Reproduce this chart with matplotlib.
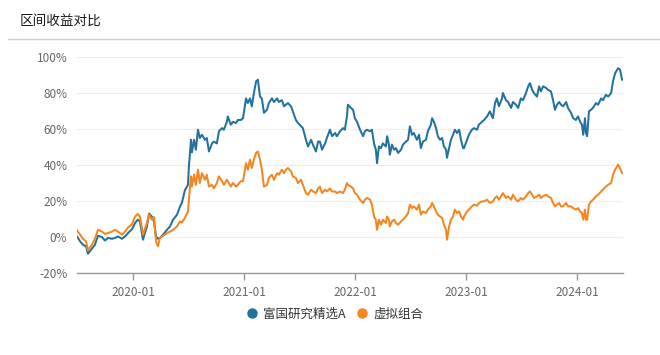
import matplotlib
matplotlib.use("Agg")
import matplotlib.pyplot as plt
import pandas as pd

plt.rcParams['font.family'] = ['Noto Sans CJK SC', 'DejaVu Sans']

title = "区间收益对比"
series_names = ["富国研究精选A", "虚拟组合"]

dates = [
    "2019-07-01", "2019-07-11", "2019-07-21", "2019-07-31", "2019-08-06", "2019-08-19", "2019-08-29",
    "2019-09-08", "2019-09-21", "2019-10-01", "2019-10-11", "2019-10-24", "2019-11-03", "2019-11-13",
    "2019-11-26", "2019-12-06", "2019-12-16", "2019-12-29", "2020-01-08", "2020-01-17", "2020-01-24",
    "2020-02-03", "2020-02-16", "2020-02-23", "2020-03-03", "2020-03-10", "2020-03-17", "2020-03-23",
    "2020-03-30", "2020-04-09", "2020-04-22", "2020-05-02", "2020-05-12", "2020-05-25", "2020-06-04",
    "2020-06-10", "2020-06-20", "2020-06-30", "2020-07-03", "2020-07-10", "2020-07-13", "2020-07-20",
    "2020-07-26", "2020-08-02", "2020-08-08", "2020-08-15", "2020-08-25", "2020-08-31", "2020-09-07",
    "2020-09-17", "2020-09-23", "2020-10-03", "2020-10-10", "2020-10-20", "2020-10-26", "2020-11-05",
    "2020-11-08", "2020-11-18", "2020-11-25", "2020-12-05", "2020-12-11", "2020-12-21", "2020-12-28",
    "2021-01-07", "2021-01-13", "2021-01-20", "2021-01-26", "2021-02-02", "2021-02-09", "2021-02-15",
    "2021-02-22", "2021-02-28", "2021-03-07", "2021-03-17", "2021-03-23", "2021-04-02", "2021-04-09",
    "2021-04-19", "2021-04-25", "2021-05-05", "2021-05-12", "2021-05-18", "2021-05-25", "2021-06-04",
    "2021-06-10", "2021-06-20", "2021-06-27", "2021-07-07", "2021-07-13", "2021-07-23", "2021-07-30",
    "2021-08-09", "2021-08-15", "2021-08-25", "2021-09-01", "2021-09-07", "2021-09-14", "2021-09-24",
    "2021-09-30", "2021-10-10", "2021-10-17", "2021-10-27", "2021-11-02", "2021-11-12", "2021-11-22",
    "2021-11-28", "2021-12-05", "2021-12-08", "2021-12-18", "2021-12-25", "2021-12-31", "2022-01-07",
    "2022-01-17", "2022-01-27", "2022-02-02", "2022-02-09", "2022-02-19", "2022-02-25", "2022-03-04",
    "2022-03-10", "2022-03-14", "2022-03-20", "2022-03-27", "2022-04-02", "2022-04-12", "2022-04-16",
    "2022-04-22", "2022-04-25", "2022-05-02", "2022-05-09", "2022-05-15", "2022-05-22", "2022-06-01",
    "2022-06-07", "2022-06-17", "2022-06-24", "2022-06-30", "2022-07-07", "2022-07-13", "2022-07-23",
    "2022-07-30", "2022-08-05", "2022-08-12", "2022-08-22", "2022-08-28", "2022-09-07", "2022-09-11",
    "2022-09-17", "2022-09-24", "2022-09-30", "2022-10-07", "2022-10-14", "2022-10-20", "2022-10-27",
    "2022-10-30", "2022-11-06", "2022-11-12", "2022-11-19", "2022-11-25", "2022-12-02", "2022-12-09",
    "2022-12-15", "2022-12-22", "2022-12-25", "2023-01-04", "2023-01-10", "2023-01-20", "2023-01-27",
    "2023-02-06", "2023-02-12", "2023-02-22", "2023-03-01", "2023-03-11", "2023-03-20", "2023-03-30",
    "2023-04-06", "2023-04-12", "2023-04-19", "2023-04-29", "2023-05-02", "2023-05-12", "2023-05-19",
    "2023-05-29", "2023-06-04", "2023-06-14", "2023-06-21", "2023-06-30", "2023-07-07", "2023-07-17",
    "2023-07-24", "2023-07-30", "2023-08-06", "2023-08-12", "2023-08-22", "2023-08-29", "2023-09-04",
    "2023-09-11", "2023-09-21", "2023-09-27", "2023-10-07", "2023-10-14", "2023-10-20", "2023-10-27",
    "2023-11-03", "2023-11-09", "2023-11-16", "2023-11-26", "2023-12-02", "2023-12-12", "2023-12-19",
    "2023-12-28", "2024-01-04", "2024-01-11", "2024-01-17", "2024-01-21", "2024-01-27", "2024-01-30",
    "2024-02-03", "2024-02-09", "2024-02-16", "2024-02-22", "2024-03-03", "2024-03-10", "2024-03-20",
    "2024-03-26", "2024-04-05", "2024-04-12", "2024-04-22", "2024-04-28", "2024-05-05", "2024-05-15",
    "2024-05-21", "2024-05-28",
]

fund = [
    0.3, -2.4, -4.3, -5.2, -9.3, -6.5, -4.3,
    0.7, 0.0, -2.0, -0.5, -1.0, -0.5, 0.3,
    -1.0, 0.3, 2.2, 4.4, 7.8, 9.6, 8.7,
    -1.5, 5.9, 13.0, 11.4, 8.7, 0.3, -1.0,
    -0.5, 1.3, 4.0, 5.9, 9.6, 12.4, 17.0,
    19.0, 26.0, 29.0, 39.0, 54.0, 47.0, 54.0,
    48.5, 59.6, 55.0, 56.8, 54.0, 55.0, 47.5,
    52.0, 53.0, 52.0, 58.7, 60.5, 59.6, 64.0,
    67.0, 62.4, 64.0, 63.3, 65.0, 65.0, 66.0,
    77.0, 74.4, 77.0, 72.6, 80.0, 86.4, 87.4,
    78.0, 77.0, 69.0, 70.7, 74.4, 77.0, 75.0,
    77.0, 75.0, 76.0, 72.6, 73.5, 74.4, 72.6,
    69.8, 65.0, 63.3, 61.5, 60.5, 54.0, 50.3,
    54.0, 51.3, 47.5, 53.0, 53.0, 48.5, 52.0,
    55.0, 59.6, 56.0, 57.8, 56.0, 58.7, 60.5,
    59.6, 67.0, 73.5, 71.7, 70.7, 66.0, 64.0,
    59.6, 56.0, 58.7, 59.6, 58.7, 59.6, 52.0,
    48.5, 41.0, 50.3, 49.4, 52.0, 50.3, 56.0,
    51.3, 45.7, 51.3, 48.5, 49.4, 46.7, 48.5,
    51.3, 53.0, 54.0, 61.5, 56.8, 57.8, 54.0,
    56.8, 49.4, 53.0, 54.0, 58.7, 62.4, 66.0,
    64.0, 60.5, 56.0, 54.0, 55.0, 50.3, 48.5,
    44.0, 49.4, 54.0, 56.8, 59.6, 57.8, 59.6,
    54.0, 49.4, 49.4, 54.0, 56.8, 59.6, 60.5,
    59.6, 62.4, 64.0, 65.0, 67.0, 69.8, 66.0,
    74.4, 77.0, 72.6, 77.0, 80.0, 76.0, 75.0,
    71.7, 75.0, 73.5, 71.7, 77.0, 76.0, 80.0,
    83.7, 85.5, 81.8, 80.0, 78.0, 83.7, 80.9,
    83.7, 82.8, 81.8, 80.9, 76.0, 70.7, 73.5,
    75.0, 73.5, 72.6, 75.0, 71.7, 69.0, 66.0,
    65.0, 67.0, 64.0, 62.4, 56.8, 66.0, 57.8,
    56.0, 69.8, 70.7, 71.7, 74.4, 73.5, 77.0,
    76.0, 79.0, 78.0, 80.0, 86.4, 91.0, 93.8,
    93.0, 87.4,
]

benchmark = [
    3.7, 1.3, -1.1, -2.4, -7.4, -4.3, -1.0,
    4.0, 3.0, 1.7, 2.2, 3.0, 4.0, 3.0,
    1.3, 3.0, 5.3, 7.2, 11.4, 12.8, 11.4,
    1.3, 7.8, 12.4, 9.6, 11.1, -2.4, -5.2,
    -0.5, 0.7, 2.2, 3.0, 4.0, 5.9, 8.7,
    8.0, 10.7, 14.0, 20.7, 33.7, 28.0, 34.6,
    29.0, 37.4, 30.0, 35.5, 31.8, 34.6, 28.0,
    29.0, 27.0, 30.0, 33.7, 31.0, 29.0, 31.8,
    31.0, 28.0, 30.0, 28.0, 29.0, 31.0, 31.0,
    41.0, 37.4, 43.0, 38.3, 43.0, 46.7, 47.5,
    43.0, 37.4, 28.0, 29.0, 32.8, 34.6, 31.8,
    35.5, 34.6, 37.4, 35.5, 37.4, 38.3, 36.4,
    33.7, 32.8, 30.0, 31.8, 29.0, 24.4, 23.5,
    26.3, 25.3, 24.4, 27.0, 28.0, 24.4, 26.3,
    25.3, 27.0, 25.3, 25.3, 24.4, 25.3, 24.4,
    26.3, 30.0, 29.0, 28.0, 27.0, 24.4, 23.5,
    20.7, 18.9, 20.7, 21.7, 20.7, 18.0, 11.4,
    9.6, 4.0, 9.6, 6.8, 9.6, 7.8, 11.4,
    9.6, 5.9, 8.7, 9.6, 7.8, 6.8, 8.7,
    9.6, 11.4, 13.3, 18.0, 16.1, 17.0, 15.2,
    18.0, 12.4, 14.2, 13.3, 15.2, 17.0, 18.9,
    17.0, 14.2, 12.4, 11.4, 10.6, 6.8, 4.0,
    -1.5, 5.9, 9.6, 11.4, 15.2, 13.3, 14.2,
    11.4, 9.6, 11.4, 14.2, 15.2, 17.0, 18.0,
    17.4, 18.9, 19.8, 19.8, 20.7, 18.9, 19.8,
    21.7, 22.6, 20.7, 23.5, 24.4, 21.7, 22.6,
    20.7, 23.5, 20.7, 19.8, 21.7, 20.7, 22.6,
    24.4, 25.3, 23.5, 21.7, 22.6, 23.5, 21.7,
    22.6, 23.5, 22.6, 21.7, 18.9, 17.0, 18.0,
    18.9, 17.0, 17.0, 18.9, 17.0, 17.0, 16.1,
    15.2, 16.1, 14.2, 13.3, 9.6, 15.2, 9.6,
    9.6, 18.0, 19.8, 20.7, 22.6, 23.5, 25.3,
    26.3, 28.0, 29.0, 30.0, 34.6, 37.4, 40.2,
    38.3, 35.5,
]

y_ticks = [-20, 0, 20, 40, 60, 80, 100]
x_tick_labels = ["2020-01", "2021-01", "2022-01", "2023-01", "2024-01"]
x_start, x_end = "2019-07-01", "2024-05-31"

colors = ["#22719f", "#f5861f"]

t = pd.to_datetime(dates)
fig = plt.figure(figsize=(6.6, 3.55), dpi=100)
ax = fig.add_axes([77/660, 1-273/355, (623-77)/660, (273-57)/355])

ax.plot(t, fund, color=colors[0], lw=1.45, label=series_names[0], zorder=3)
ax.plot(t, benchmark, color=colors[1], lw=1.45, label=series_names[1], zorder=3)

ax.set_ylim(-20, 100)
ax.set_yticks(y_ticks)
ax.set_yticklabels([f"{v}%" for v in y_ticks])
ax.set_xlim(pd.Timestamp(x_start), pd.Timestamp(x_end))
ax.set_xticks(pd.to_datetime([s + "-01" for s in x_tick_labels]))
ax.set_xticklabels(x_tick_labels)

ax.grid(axis='y', color='#eeeeee', lw=0.9)
ax.set_axisbelow(True)
for s in ['top', 'right', 'left']:
    ax.spines[s].set_visible(False)
ax.spines['bottom'].set_color('#999999')
ax.spines['bottom'].set_linewidth(1.0)
ax.tick_params(axis='y', length=0, pad=7, labelsize=8.5, labelcolor='#666666')
ax.tick_params(axis='x', length=5, width=1, color='#999999', pad=4, labelsize=8.5, labelcolor='#666666')

fig.text(20/660, 1-21/355, title, fontsize=9.8, color='#1a1a1a', va='center', ha='left',
         fontweight='medium')
fig.add_artist(plt.Line2D([8/660, 1.0], [1-39/355, 1-39/355], color='#d0d0d0', lw=1))

leg = ax.legend(loc='center', bbox_to_anchor=(335/660, 1-314/355), bbox_transform=fig.transFigure,
                ncol=2, frameon=False, fontsize=9, handlelength=0.8, handletextpad=0.5,
                columnspacing=0.9, labelcolor='#333333')
for h, c in zip(leg.legend_handles, colors):
    h.set_linestyle('')
    h.set_marker('o')
    h.set_markersize(6.5)
    h.set_markerfacecolor(c)
    h.set_markeredgecolor(c)

fig.savefig("out.png", dpi=100)
